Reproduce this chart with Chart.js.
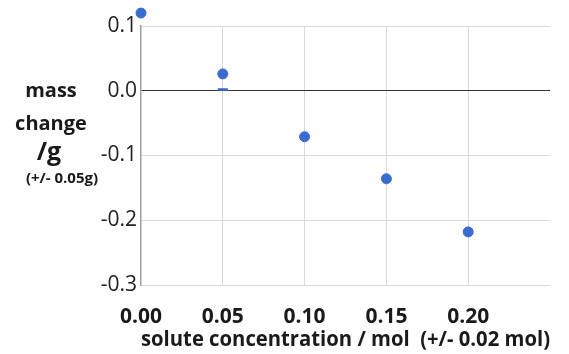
<!DOCTYPE html>
<html>
<head>
<meta charset="utf-8">
<script src="https://cdn.jsdelivr.net/npm/chart.js@4/dist/chart.umd.min.js"></script>
<style>
  html, body { margin: 0; padding: 0; background: #fff; }
  #wrap { width: 569px; height: 354px; }
</style>
</head>
<body>
<div id="wrap"><canvas id="myChart"></canvas></div>
<script>
// concentrations (mol) and mass change (g)
const concentrations = [0.00, 0.05, 0.10, 0.15, 0.20];
const massChange = [0.12, 0.026, -0.071, -0.136, -0.218];

// leftover error-bar cap seen under the 0.05 point
const capX = [0.05];
const capY = [0.002];

const xTicks = [0.00, 0.05, 0.10, 0.15, 0.20];
const yTicks = [-0.3, -0.2, -0.1, 0.0, 0.1];

const yTitleLines = ['mass', 'change', '/g', '(+/- 0.05g)'];
const xTitle = 'solute concentration / mol  (+/- 0.02 mol)';

const FONT = "'Open Sans', 'Liberation Sans', sans-serif";
const BLUE = '#3a6bd1';

// y title is stacked text with different sizes, drawn by hand
const yTitlePlugin = {
    id: 'yTitle',
    afterDraw(chart)
    {
        const ctx = chart.ctx;
        const styles = [
            { size: 20, y: 91, x: 51 },
            { size: 20, y: 124, x: 51 },
            { size: 25, y: 153, x: 49 },
            { size: 15, y: 179, x: 62 },
        ];
        ctx.save();
        ctx.fillStyle = '#1a1a1a';
        ctx.textAlign = 'center';
        ctx.textBaseline = 'middle';
        yTitleLines.forEach((line, i) => {
            ctx.font = `bold ${styles[i].size}px ${FONT}`;
            ctx.fillText(line, styles[i].x, styles[i].y);
        });
        ctx.restore();
    }
};

// Chart.js skips points that lie outside the chart area; the 0.12 point sits above it
const outsidePoints = {
    id: 'outsidePoints',
    afterDatasetsDraw(chart)
    {
        const area = chart.chartArea;
        const meta = chart.getDatasetMeta(0);
        meta.data.forEach(pt => {
            if (pt.y < area.top || pt.y > area.bottom || pt.x < area.left || pt.x > area.right) {
                pt.draw(chart.ctx);
            }
        });
    }
};

const ctx = document.getElementById('myChart').getContext('2d');

new Chart(ctx, {
    type: 'scatter',
    data: {
        datasets: [
            {
                label: 'mass change',
                data: concentrations.map((c, i) => ({ x: c, y: massChange[i] })),
                backgroundColor: BLUE,
                borderColor: BLUE,
                pointRadius: 5,
                clip: false,
            },
            {
                label: 'cap',
                data: capX.map((c, i) => ({ x: c, y: capY[i] })),
                pointStyle: 'line',
                borderColor: BLUE,
                borderWidth: 2.5,
                pointRadius: 5,
                clip: false,
            },
        ],
    },
    options: {
        responsive: true,
        maintainAspectRatio: false,
        animation: false,
        layout: { padding: { top: 26, right: 8, left: 0, bottom: 1 } },
        plugins: {
            legend: { display: false },
            tooltip: { enabled: false },
        },
        scales: {
            x: {
                type: 'linear',
                min: 0,
                max: 0.25,
                afterBuildTicks: (scale) => {
                    scale.ticks = xTicks.concat([0.25]).map(v => ({ value: v }));
                },
                afterFit: (scale) => { scale.height = 68; },
                ticks: {
                    callback: (v) => (xTicks.some(t => Math.abs(t - v) < 1e-9) ? Number(v).toFixed(2) : ''),
                    font: { family: FONT, size: 21, weight: 'bold' },
                    color: '#1a1a1a',
                    padding: 19,
                    maxRotation: 0,
                    autoSkip: false,
                },
                grid: {
                    color: (c) => (c.tick && (c.tick.value === 0 || Math.abs(c.tick.value - 0.25) < 1e-9) ? 'rgba(0,0,0,0)' : '#d9d9d9'),
                    drawTicks: false,
                },
                border: { display: false },
                title: {
                    display: true,
                    text: xTitle,
                    font: { family: FONT, size: 21, weight: 'bold' },
                    color: '#1a1a1a',
                    padding: { top: 0, bottom: 0 },
                },
            },
            y: {
                type: 'linear',
                min: -0.3,
                max: 0.1,
                afterBuildTicks: (scale) => {
                    scale.ticks = yTicks.map(v => ({ value: v }));
                },
                afterFit: (scale) => { scale.width = 141; },
                ticks: {
                    callback: (v) => Number(v).toFixed(1),
                    font: { family: FONT, size: 21 },
                    color: '#222',
                    padding: 4,
                },
                grid: {
                    color: (c) => (c.tick && Math.abs(c.tick.value) < 1e-9 ? '#333' : '#d9d9d9'),
                    drawTicks: false,
                },
                border: { color: '#9e9e9e', width: 1.5 },
            },
        },
    },
    plugins: [yTitlePlugin, outsidePoints],
});
</script>
</body>
</html>
